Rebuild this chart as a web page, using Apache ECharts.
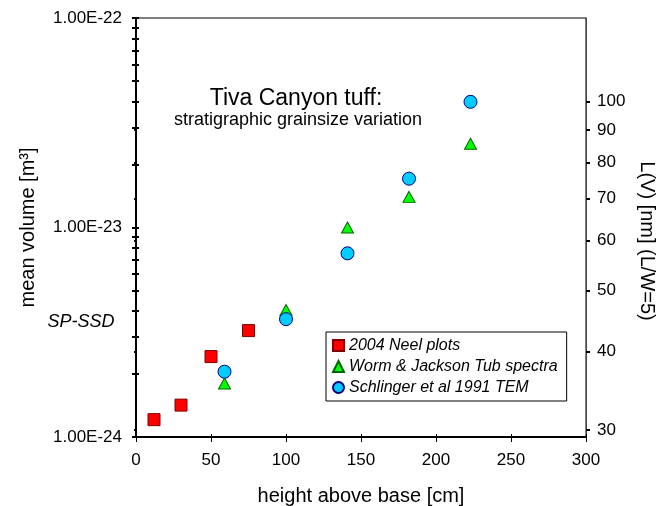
<!DOCTYPE html>
<html><head><meta charset="utf-8">
<script src="https://cdn.jsdelivr.net/npm/echarts@6/dist/echarts.min.js"></script>
<style>html,body{margin:0;padding:0;background:#fff}#c{width:665px;height:506px}</style>
</head><body><div id="c"></div>
<script>
// ---- data ----
const seriesNames = ['2004 Neel plots', 'Worm & Jackson Tub spectra', 'Schlinger et al 1991 TEM'];
const neelX = [12, 30, 50, 75];
const neelV = [1.21e-24, 1.42e-24, 2.42e-24, 3.22e-24];
const wormX = [59, 100, 141, 182, 223];
const wormV = [1.80e-24, 4.04e-24, 1.0e-23, 1.40e-23, 2.51e-23];
const schX = [59, 100, 141, 182, 223];
const schV = [2.05e-24, 3.65e-24, 7.53e-24, 1.71e-23, 3.98e-23];
const volExponents = [-24, -23, -22];          // left axis decades
const lengthTicks = [30, 40, 50, 60, 70, 80, 90, 100]; // right axis L(V) [nm]
const aspectRatio = 5;                          // L/W

// ---- helpers ----
const FONT = '"Liberation Sans", Arial, sans-serif';
const lg = Math.log10;
const vMinExp = volExponents[0], vMaxExp = volExponents[volExponents.length - 1];
// L = (V * aspect^2)^(1/3) in m -> nm
const volToLlog = e => (e + 2 * lg(aspectRatio)) / 3 + 9;
const minorTicks = [];
for (let e = vMinExp; e < vMaxExp; e++) for (let k = 1; k <= 9; k++) minorTicks.push(e + lg(k));
minorTicks.push(vMaxExp);
const lTickVals = lengthTicks.map(lg);
const pts = (xs, vs) => xs.map((x, i) => [x, lg(vs[i])]);

const chart = echarts.init(document.getElementById('c'), null, {renderer: 'canvas'});
chart.setOption({
  animation: false,
  backgroundColor: '#fff',
  grid: {left: 136, right: 79, top: 18, bottom: 69, show: true, borderColor: '#000', borderWidth: 1,
         backgroundColor: 'transparent', containLabel: false, outerBoundsMode: 'none'},
  xAxis: [
    {type: 'value', min: 0, max: 300, interval: 50, position: 'bottom',
     name: 'height above base [cm]', nameLocation: 'middle', nameGap: 49,
     nameTextStyle: {fontSize: 20, fontFamily: FONT, color: '#000'},
     axisLine: {onZero: false, lineStyle: {color: '#000', width: 2}},
     axisTick: {length: 5, lineStyle: {color: '#000', width: 1}},
     axisLabel: {fontSize: 17, fontFamily: FONT, color: '#000', margin: 15},
     splitLine: {show: false}},
    {type: 'value', min: 0, max: 300, interval: 50, position: 'bottom',
     axisLine: {show: false}, axisLabel: {show: false}, splitLine: {show: false},
     axisTick: {inside: true, length: 3, lineStyle: {color: '#000', width: 1}}}
  ],
  yAxis: [
    {type: 'value', min: vMinExp, max: vMaxExp, interval: 1, position: 'left',
     name: 'mean volume [m³]', nameLocation: 'middle', nameGap: 98,
     nameTextStyle: {fontSize: 20, fontFamily: FONT, color: '#000'},
     axisLine: {show: true, onZero: false, lineStyle: {color: '#000', width: 2}},
     axisTick: {show: true, length: 4, customValues: minorTicks, lineStyle: {color: '#000', width: 2}},
     axisLabel: {fontSize: 17, fontFamily: FONT, color: '#000', margin: 14,
                 customValues: volExponents, formatter: v => '1.00E' + Math.round(v)},
     splitLine: {show: false}},
    {type: 'value', min: vMinExp, max: vMaxExp, interval: 1, position: 'left',
     axisLine: {show: false}, axisLabel: {show: false}, splitLine: {show: false},
     axisTick: {show: true, inside: true, length: 3, customValues: minorTicks, lineStyle: {color: '#000', width: 2}}},
    {type: 'value', min: volToLlog(vMinExp), max: volToLlog(vMaxExp), position: 'right',
     axisLine: {show: true, onZero: false, lineStyle: {color: '#444', width: 1}},
     axisTick: {show: true, length: 4, customValues: lTickVals, lineStyle: {color: '#000', width: 2}},
     axisLabel: {fontSize: 17, fontFamily: FONT, color: '#000', margin: 11,
                 customValues: lTickVals, formatter: v => String(Math.round(Math.pow(10, v)))},
     splitLine: {show: false}},
    {type: 'value', min: volToLlog(vMinExp), max: volToLlog(vMaxExp), position: 'right',
     axisLine: {show: false}, axisLabel: {show: false}, splitLine: {show: false},
     axisTick: {show: true, inside: true, length: 2, customValues: lTickVals, lineStyle: {color: '#000', width: 2}}}
  ],
  legend: {
    orient: 'vertical', left: 326, top: 332, itemWidth: 11, itemHeight: 11, itemGap: 0,
    padding: [3, 9, 3, 6], borderColor: '#000', borderWidth: 1, backgroundColor: '#fff',
    textStyle: {fontSize: 16, fontStyle: 'italic', fontFamily: FONT, color: '#000', lineHeight: 21},
    data: seriesNames
  },
  graphic: [
    {type: 'text', x: 296, y: 99, style: {text: 'Tiva Canyon tuff:', font: '23px ' + FONT, fill: '#000', align: 'center', verticalAlign: 'middle'}},
    {type: 'text', x: 298, y: 120, style: {text: 'stratigraphic grainsize variation', font: '18px ' + FONT, fill: '#000', align: 'center', verticalAlign: 'middle'}},
    {type: 'text', x: 81, y: 322, style: {text: 'SP-SSD', font: 'italic 18px ' + FONT, fill: '#000', align: 'center', verticalAlign: 'middle'}},
    {type: 'text', x: 647, y: 241, rotation: -Math.PI / 2, style: {text: 'L(V) [nm] (L/W=5)', font: '20px ' + FONT, fill: '#000', align: 'center', verticalAlign: 'middle'}}
  ],
  series: [
    {name: seriesNames[0], type: 'scatter', xAxisIndex: 0, yAxisIndex: 0, symbol: 'rect', symbolSize: 12,
     itemStyle: {color: '#FF0000', borderColor: '#800000', borderWidth: 1, opacity: 1}, data: pts(neelX, neelV)},
    {name: seriesNames[1], type: 'scatter', xAxisIndex: 0, yAxisIndex: 0, symbol: 'triangle', symbolSize: [12, 11],
     itemStyle: {color: '#00FF00', borderColor: '#006400', borderWidth: 1, opacity: 1}, data: pts(wormX, wormV)},
    {name: seriesNames[2], type: 'scatter', xAxisIndex: 0, yAxisIndex: 0, symbol: 'circle', symbolSize: 13,
     itemStyle: {color: '#00CCFF', borderColor: '#000080', borderWidth: 1, opacity: 1}, data: pts(schX, schV)}
  ]
});
</script></body></html>
